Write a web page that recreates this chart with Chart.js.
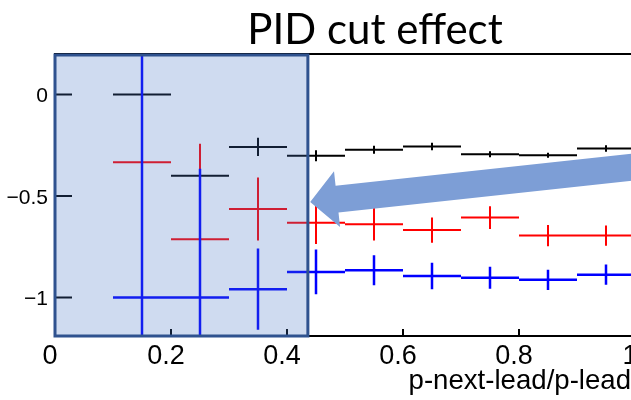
<!DOCTYPE html>
<html>
<head>
<meta charset="utf-8">
<script src="https://cdn.jsdelivr.net/npm/chart.js@4.4.6/dist/chart.umd.min.js"></script>
<style>
  html, body { margin: 0; padding: 0; background: #fff; overflow: hidden; }
  #marco { position: relative; width: 631px; height: 400px; overflow: hidden; }
  #lienzo { position: absolute; left: 0; top: 0; width: 680px; height: 400px; }
  #titulo {
    position: absolute; left: 0; width: 750px; top: -1px; text-align: center;
    font-family: Lato, "Open Sans", sans-serif; font-size: 42px; line-height: 58px; color: #000;
  }
  #ejeX {
    position: absolute; right: 0; top: 364px;
    font-family: "Liberation Sans", Arial, sans-serif; font-size: 27.6px; line-height: 32px; color: #000;
  }
</style>
</head>
<body>
<div id="marco">
  <div id="lienzo"><canvas id="grafica" width="680" height="400"></canvas></div>
  <div id="titulo">PID cut effect</div>
  <div id="ejeX">p-next-lead/p-lead</div>
</div>
<script>
// bins en p-next-lead/p-lead
const centros = [0.15, 0.25, 0.35, 0.45, 0.55, 0.65, 0.75, 0.85, 0.95];
const anchoBin = 0.05;

const valoresNegro = [0, -0.40, -0.258, -0.302, -0.272, -0.256, -0.294, -0.299, -0.266];
const erroresNegro = [0.05, 0.05, 0.045, 0.027, 0.02, 0.019, 0.015, 0.012, 0.016];

const valoresRojo = [-0.333, -0.713, -0.564, -0.632, -0.639, -0.668, -0.606, -0.695, -0.695];
const erroresRojo = [0.3, 0.47, 0.155, 0.105, 0.08, 0.062, 0.056, 0.052, 0.05];

const valoresAzul = [-1.0, -1.0, -0.959, -0.874, -0.866, -0.894, -0.903, -0.913, -0.888];
const erroresAzul = [1.6, 0.634, 0.2, 0.11, 0.074, 0.065, 0.054, 0.05, 0.05];

const ticksX = [0, 0.2, 0.4, 0.6, 0.8, 1];
const ticksY = [-1, -0.5, 0];

// zona resaltada y flecha, en unidades de los ejes
const zonaCorte = { xMin: 0, xMax: 0.436 };
const flecha = { desde: { x: 1.0, y: -0.356 }, hasta: { x: 0.44, y: -0.53 } };

// cada punto: barra horizontal del bin + barra de error vertical, separadas por huecos
function cruces(valores, errores) {
    const puntos = [];
    centros.forEach((c, i) => {
        const v = valores[i];
        const e = errores[i];
        puntos.push({ x: c - anchoBin, y: v }, { x: c + anchoBin, y: v }, { x: c, y: null });
        puntos.push({ x: c, y: v - e }, { x: c, y: v + e }, { x: c, y: null });
    });
    return puntos;
}

function serie(valores, errores, color, grosor) {
    return {
        data: cruces(valores, errores),
        borderColor: color,
        borderWidth: grosor,
        borderCapStyle: 'butt',
        showLine: true,
        spanGaps: false,
        pointRadius: 0,
        pointHoverRadius: 0
    };
}

const fuenteTicks = 'Liberation Sans, Arial, sans-serif';

// ticks hacia dentro y marco, al estilo ROOT
const marcoPlugin = {
    id: 'marcoRoot',
    beforeDatasetsDraw(chart) {
        const ctx = chart.ctx;
        const a = chart.chartArea;
        const sx = chart.scales.x;
        const sy = chart.scales.y;
        ctx.save();
        ctx.strokeStyle = '#000';
        ctx.lineWidth = 2;
        ctx.beginPath();
        ticksY.forEach(v => {
            const py = sy.getPixelForValue(v);
            ctx.moveTo(a.left, py);
            ctx.lineTo(a.left + 17, py);
        });
        ticksX.forEach(v => {
            const px = sx.getPixelForValue(v);
            ctx.moveTo(px, a.bottom);
            ctx.lineTo(px, a.bottom - 7);
        });
        ctx.stroke();
        ctx.strokeRect(a.left, a.top, a.right - a.left, a.bottom - a.top);
        ctx.restore();
    },
    afterDatasetsDraw(chart) {
        const ctx = chart.ctx;
        const a = chart.chartArea;
        const sx = chart.scales.x;
        const sy = chart.scales.y;

        // zona del corte
        const x0 = sx.getPixelForValue(zonaCorte.xMin);
        const x1 = sx.getPixelForValue(zonaCorte.xMax);
        ctx.save();
        ctx.fillStyle = 'rgba(68, 114, 196, 0.26)';
        ctx.fillRect(x0, a.top, x1 - x0, a.bottom - a.top);
        ctx.strokeStyle = '#2F528F';
        ctx.lineWidth = 3;
        ctx.strokeRect(x0, a.top + 1, x1 - x0, a.bottom - a.top - 1);

        // flecha
        const px0 = sx.getPixelForValue(flecha.desde.x);
        const py0 = sy.getPixelForValue(flecha.desde.y);
        const px1 = sx.getPixelForValue(flecha.hasta.x);
        const py1 = sy.getPixelForValue(flecha.hasta.y);
        const ang = Math.atan2(py1 - py0, px1 - px0);
        const largo = Math.hypot(px1 - px0, py1 - py0);
        const medioCuerpo = 13.5, medioPunta = 28, largoPunta = 27;
        ctx.translate(px0, py0);
        ctx.rotate(ang);
        ctx.beginPath();
        ctx.moveTo(0, -medioCuerpo);
        ctx.lineTo(largo - largoPunta, -medioCuerpo);
        ctx.lineTo(largo - largoPunta, -medioPunta);
        ctx.lineTo(largo, 0);
        ctx.lineTo(largo - largoPunta, medioPunta);
        ctx.lineTo(largo - largoPunta, medioCuerpo);
        ctx.lineTo(0, medioCuerpo);
        ctx.closePath();
        ctx.fillStyle = '#7D9ED6';
        ctx.fill();
        ctx.restore();
    }
};

new Chart(document.getElementById('grafica').getContext('2d'), {
    type: 'scatter',
    data: {
        datasets: [
            serie(valoresAzul, erroresAzul, '#0000FF', 2.5),
            serie(valoresRojo, erroresRojo, '#FF0000', 2),
            serie(valoresNegro, erroresNegro, '#000000', 2)
        ]
    },
    options: {
        responsive: false,
        animation: false,
        events: [],
        layout: { padding: { left: 0, top: 54, right: 45, bottom: 0 } },
        plugins: {
            legend: { display: false },
            tooltip: { enabled: false },
            title: { display: false }
        },
        scales: {
            x: {
                type: 'linear',
                min: 0,
                max: 1,
                afterFit(scale) { scale.height = 64; },
                afterBuildTicks(scale) { scale.ticks = ticksX.map(v => ({ value: v })); },
                grid: { display: false, drawTicks: false },
                border: { display: false },
                ticks: {
                    padding: 4,
                    labelOffset: -5,
                    color: '#000',
                    maxRotation: 0,
                    font: { family: fuenteTicks, size: 27 },
                    callback: v => String(v)
                }
            },
            y: {
                type: 'linear',
                min: -1.19,
                max: 0.2,
                afterFit(scale) { scale.width = 55; },
                afterBuildTicks(scale) { scale.ticks = ticksY.map(v => ({ value: v })); },
                grid: { display: false, drawTicks: false },
                border: { display: false },
                ticks: {
                    padding: 7,
                    labelOffset: 2,
                    color: '#000',
                    font: { family: fuenteTicks, size: 21 },
                    callback: v => (v < 0 ? '\u2212' + String(-v) : String(v))
                }
            }
        }
    },
    plugins: [marcoPlugin]
});
</script>
</body>
</html>
